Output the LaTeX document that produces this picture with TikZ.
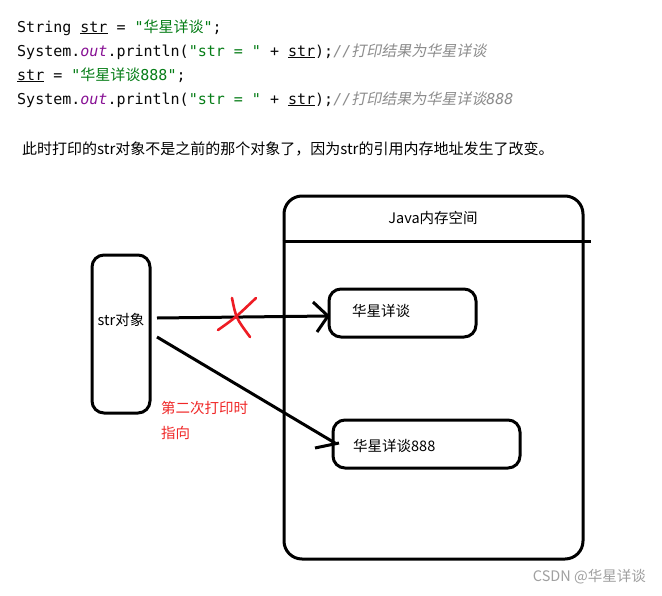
\documentclass[tikz,border=0pt]{standalone}
\usepackage{fontspec}
\newfontfamily\cjk{Noto Sans CJK SC}
\newfontfamily\cjkit[FakeSlant=0.2]{Noto Sans CJK SC}
\newfontfamily\mono{DejaVu Sans Mono}
\definecolor{codeblack}{HTML}{080808}
\definecolor{strg}{HTML}{067D17}
\definecolor{purp}{HTML}{871094}
\definecolor{cmt}{HTML}{8C8C8C}
\definecolor{xred}{HTML}{EE1C24}
\definecolor{lblred}{HTML}{F02828}
\definecolor{wm}{HTML}{A0A0A0}
\tikzset{
  code/.style={anchor=base west, inner sep=0pt, font=\mono\fontsize{15}{18}\selectfont, text=codeblack},
  txt/.style={inner sep=0pt, font=\cjk\fontsize{14.5}{17}\selectfont, text=black},
  heavy/.style={line width=3pt, black},
  rbox/.style={draw, line width=3pt, rounded corners=12pt, inner sep=0pt},
  crossline/.style={line width=2.6pt, xred, line cap=round},
}
\begin{document}
\begin{tikzpicture}[x=1pt,y=-1pt]
\fill[white] (0,0) rectangle (662,595);
\path[use as bounding box] (0,0) rectangle (662,595);

% code lines
\node[code] (c1) at (17,32) {String \underline{str} = \textcolor{strg}{"{\cjk 华星详谈}"};};
\node[code] (c2) at (17,56) {System.\textcolor{purp}{\itshape out}.println(\textcolor{strg}{"str = "} + \underline{str});\textcolor{cmt}{\itshape //{\cjkit 打印结果为华星详谈}}};
\node[code] (c3) at (17,80) {\underline{str} = \textcolor{strg}{"{\cjk 华星详谈}888"};};
\node[code] (c4) at (17,104) {System.\textcolor{purp}{\itshape out}.println(\textcolor{strg}{"str = "} + \underline{str});\textcolor{cmt}{\itshape //{\cjkit 打印结果为华星详谈}888}};

% sentence
\node[txt, anchor=base west, font=\cjk\fontsize{15}{18}\selectfont] (sent) at (22,154) {此时打印的str对象不是之前的那个对象了，因为str的引用内存地址发生了改变。};

% Java memory box
\node[rbox, rounded corners=18pt, minimum width=299pt, minimum height=363pt] (mem) at (433.5,377.5) {};
\coordinate (hl) at (591,241);
\draw[heavy] (mem.west |- hl) -- (hl);
\node[txt] (memlbl) at (433,218) {Java内存空间};

% str object box
\node[rbox, minimum width=58pt, minimum height=158pt] (str) at (121,334) {};
\node[txt] (strlbl) at (121,320) {str对象};

% value boxes
\node[rbox, minimum width=147pt, minimum height=48pt] (b1) at (402.5,313) {};
\node[txt, anchor=west] (b1lbl) at (352,311) {华星详谈};
\node[rbox, minimum width=187pt, minimum height=48pt] (b2) at (426.5,444) {};
\node[txt, anchor=west] (b2lbl) at (353,446) {华星详谈888};

% arrow 1 (crossed out)
\coordinate (a1s) at (157,318);
\coordinate (a1e) at (328,316);
\coordinate (a1u) at (313,302);
\coordinate (a1d) at (317,332);
\draw[heavy] (a1s) -- (a1e);
\draw[heavy] (a1u) -- (a1e) -- (a1d);
\coordinate (x1a) at (218,330);
\coordinate (x1b) at (256,298);
\coordinate (x2a) at (232,298);
\coordinate (x2b) at (250,337);
\draw[crossline] (x1a) .. controls (235,318) .. (x1b);
\draw[crossline] (x2a) .. controls (236,318) .. (x2b);

% arrow 2
\coordinate (a2s) at (157,337);
\coordinate (a2e) at (335,443);
\coordinate (a2b) at (315,448);
\draw[heavy] (a2s) -- (a2e);
\draw[heavy] (a2b) -- (339,443);

% red label
\node[txt, anchor=west, text=lblred] (lbl1) at (161,408) {第二次打印时};
\node[txt, anchor=west, text=lblred] (lbl2) at (161,433) {指向};

% watermark
\node[txt, anchor=east, text=wm, font=\cjk\fontsize{14.5}{17}\selectfont] (wmk) at (646,577) {CSDN @华星详谈};
\end{tikzpicture}
\end{document}
